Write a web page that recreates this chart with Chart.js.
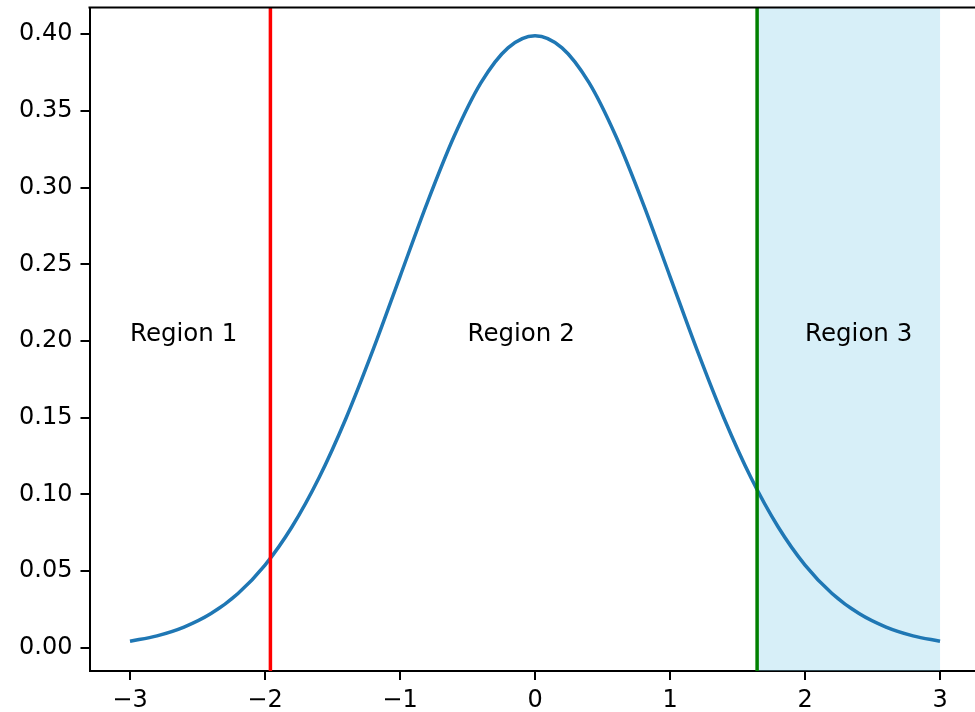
<!DOCTYPE html>
<html>
<head>
<meta charset="utf-8">
<script src="https://cdn.jsdelivr.net/npm/chart.js@4.4.1/dist/chart.umd.min.js"></script>
<style>
  html, body { margin: 0; padding: 0; overflow: hidden; background: #fff; }
  #wrap { width: 975px; height: 712px; overflow: hidden; }
  #pdf_Chart { display: block; }
</style>
</head>
<body>
<div id="wrap"><canvas id="pdf_Chart" width="975" height="712"></canvas></div>
<script>
// curve samples
const curve_x = [-3.0, -2.8, -2.6, -2.4, -2.2, -2.0, -1.8, -1.6, -1.4, -1.2, -1.0, -0.8, -0.6, -0.4, -0.2,
  0.0, 0.2, 0.4, 0.6, 0.8, 1.0, 1.2, 1.4, 1.6, 1.8, 2.0, 2.2, 2.4, 2.6, 2.8, 3.0];
const curve_y = [0.0044, 0.0079, 0.0136, 0.0224, 0.0355, 0.0540, 0.0790, 0.1109, 0.1497, 0.1942, 0.2420,
  0.2897, 0.3332, 0.3683, 0.3910, 0.3989, 0.3910, 0.3683, 0.3332, 0.2897, 0.2420, 0.1942, 0.1497,
  0.1109, 0.0790, 0.0540, 0.0355, 0.0224, 0.0136, 0.0079, 0.0044];

const red_line_x = -1.96;
const green_line_x = 1.645;
const span_range = [1.645, 3.0];

const region_labels = ['Region 1', 'Region 2', 'Region 3'];
const region_x = [-3.0, -0.5, 2.0];
const region_y = [0.2, 0.2, 0.2];

const x_ticks = [-3, -2, -1, 0, 1, 2, 3];
const x_tick_labels = ['\u22123', '\u22122', '\u22121', '0', '1', '2', '3'];
const y_ticks = [0.00, 0.05, 0.10, 0.15, 0.20, 0.25, 0.30, 0.35, 0.40];
const y_tick_labels = ['0.00', '0.05', '0.10', '0.15', '0.20', '0.25', '0.30', '0.35', '0.40'];

const FONT = 'DejaVu Sans';

const points = curve_x.map((x, i) => ({ x: x, y: curve_y[i] }));

// span, vertical lines, text and the top spine
const regions_plugin = {
  id: 'regions',
  beforeDatasetsDraw(chart) {
    const { ctx, chartArea: a, scales: { x } } = chart;
    const x0 = x.getPixelForValue(span_range[0]);
    const x1 = x.getPixelForValue(span_range[1]);
    ctx.save();
    ctx.fillStyle = 'rgba(135, 206, 235, 0.33)';
    ctx.fillRect(x0, a.top, x1 - x0, a.bottom - a.top);
    ctx.restore();
  },
  afterDatasetsDraw(chart) {
    const { ctx, chartArea: a, scales: { x, y } } = chart;
    ctx.save();
    ctx.lineWidth = 3.5;
    [[red_line_x, '#ff0000'], [green_line_x, '#008000']].forEach(([v, c]) => {
      const px = x.getPixelForValue(v);
      ctx.strokeStyle = c;
      ctx.beginPath();
      ctx.moveTo(px, a.top);
      ctx.lineTo(px, a.bottom);
      ctx.stroke();
    });
    ctx.fillStyle = '#000';
    ctx.font = '24.5px "' + FONT + '"';
    ctx.textAlign = 'left';
    ctx.textBaseline = 'alphabetic';
    region_labels.forEach((t, i) => {
      ctx.fillText(t, x.getPixelForValue(region_x[i]), y.getPixelForValue(region_y[i]));
    });
    // top spine; the right spine falls just outside the picture
    ctx.strokeStyle = '#000';
    ctx.lineWidth = 2;
    ctx.beginPath();
    ctx.moveTo(a.left - 1, a.top);
    ctx.lineTo(chart.width, a.top);
    ctx.stroke();
    ctx.restore();
  }
};

const config_pdf = {
  type: 'line',
  data: {
    datasets: [{
      label: 'pdf',
      data: points,
      borderColor: '#1f77b4',
      borderWidth: 3.5,
      pointRadius: 0,
      fill: false,
      cubicInterpolationMode: 'monotone'
    }]
  },
  options: {
    responsive: false,
    animation: false,
    layout: { padding: { left: 0, top: 7.5, right: 0, bottom: 0 } },
    plugins: { legend: { display: false }, tooltip: { enabled: false } },
    scales: {
      x: {
        type: 'linear',
        min: -3.3,
        max: 3.259,
        afterBuildTicks: (s) => { s.ticks = x_ticks.map(v => ({ value: v })); },
        afterFit: (s) => { s.height = 41; s.paddingLeft = 0; s.paddingRight = 0; },
        grid: { drawOnChartArea: false, drawTicks: true, tickLength: 9, color: '#000', lineWidth: 2 },
        border: { display: true, color: '#000', width: 2 },
        ticks: {
          padding: 6,
          color: '#000',
          font: { family: FONT, size: 24 },
          maxRotation: 0,
          autoSkip: false,
          callback: (v) => x_tick_labels[x_ticks.indexOf(v)]
        }
      },
      y: {
        type: 'linear',
        min: -0.015,
        max: 0.4173,
        afterBuildTicks: (s) => { s.ticks = y_ticks.map(v => ({ value: v })); },
        afterFit: (s) => { s.width = 89.5; s.paddingTop = 0; s.paddingBottom = 0; },
        grid: { drawOnChartArea: false, drawTicks: true, tickLength: 9, color: '#000', lineWidth: 2 },
        border: { display: true, color: '#000', width: 2 },
        ticks: {
          padding: 8,
          color: '#000',
          font: { family: FONT, size: 24 },
          autoSkip: false,
          callback: (v) => {
            const i = y_ticks.findIndex(t => Math.abs(t - v) < 1e-9);
            return i < 0 ? '' : y_tick_labels[i];
          }
        }
      }
    }
  },
  plugins: [regions_plugin]
};

let myChart = new Chart(document.getElementById('pdf_Chart'), config_pdf);
</script>
</body>
</html>
